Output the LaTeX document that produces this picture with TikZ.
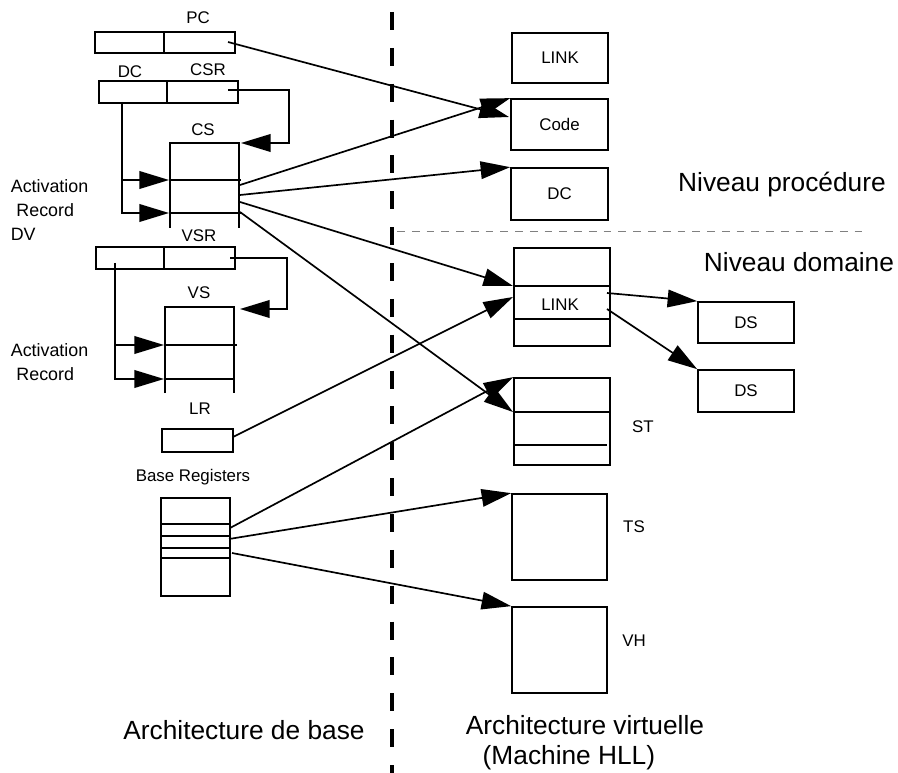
\documentclass[tikz,border=0pt]{standalone}
\usepackage{fontspec}
\setmainfont{Liberation Sans}
\usepackage{tikz}
\usetikzlibrary{arrows.meta}
\usetikzlibrary{positioning}

\begin{document}
\begin{tikzpicture}[x=0.025cm,y=-0.025cm,->,>={Triangle[length=21pt,width=12.5pt]},
  line width=1.2pt,
  main node/.style={rectangle,draw,inner sep=0pt,font=\fontsize{12}{14}\selectfont},
  dims/.style 2 args={minimum width=#1*0.025cm,minimum height=#2*0.025cm},
  small label/.style={inner sep=0pt,font=\fontsize{12}{14}\selectfont},
  side label/.style={inner sep=0pt,align=left,anchor=west,font=\fontsize{12.7}{17}\selectfont},
  big label/.style={inner sep=0pt,font=\fontsize{18.7}{21.3}\selectfont}]

  \useasboundingbox (0,0) rectangle (898,773);

  % base architecture, registers
  \node[main node,dims={69}{21}] (pc1) at (129.5,42.5) {};
  \node[main node,dims={71}{21}] (pc2) at (199.5,42.5) {};
  \node[main node,dims={68}{22}] (dc1) at (133,92) {};
  \node[main node,dims={71}{22}] (dc2) at (202.5,92) {};
  \node[main node,dims={68}{22}] (vs1) at (130,258) {};
  \node[main node,dims={71}{22}] (vs2) at (199.5,258) {};
  \node[main node,dims={71}{23}] (lr) at (197.5,440.5) {};
  \node[main node,dims={69}{98}] (base) at (195.5,547) {};

  \node[small label] (pc label) at (198,18) {PC};
  \node[small label] (dc label) at (130,72) {DC};
  \node[small label] (csr label) at (208,70) {CSR};
  \node[small label] (cs label) at (203,130) {CS};
  \node[small label] (vsr label) at (199,236) {VSR};
  \node[small label] (vs label) at (199,293) {VS};
  \node[small label] (lr label) at (200,409) {LR};
  \node[small label] (base label) at (193,477) {Base Registers};
  \node[side label] (act1) at (10,210) {Activation\\\hspace*{4pt}Record\\DV};
  \node[side label] (act2) at (10,362) {Activation\\\hspace*{4pt}Record};

  % stacks
  \draw[-] (170,228) -- (170,143) -- (239,143) -- (239,228)
    (170,180) -- (241,180) (170,213) -- (241,213);
  \draw[-] (165,393) -- (165,307) -- (234,307) -- (234,393)
    (165,345) -- (237,345) (165,379) -- (234,379);
  \foreach \y in {524,536,548,558}
    \draw[-] (161,\y) -- (230,\y);

  % virtual architecture
  \node[main node,dims={96}{50}] (link) at (560,58) {LINK};
  \node[main node,dims={97}{51}] (code) at (559.5,124.5) {Code};
  \node[main node,dims={97}{52}] (dc) at (559.5,194) {DC};
  \node[main node,dims={96}{98}] (dom) at (562,297) {};
  \node[main node,dims={96}{41}] (ds1) at (746,322.5) {DS};
  \node[main node,dims={96}{42}] (ds2) at (746,391) {DS};
  \node[main node,dims={96}{87}] (st) at (562,421.5) {};
  \node[main node,dims={95}{86}] (ts) at (559.5,537) {};
  \node[main node,dims={95}{86}] (vh) at (559.5,650) {};
  \draw[-] (514,286) -- (610,286) (514,319) -- (610,319);
  \draw[-] (514,412) -- (610,412) (514,445) -- (607,445);

  \node[small label] (dom label) at (560,305) {LINK};
  \node[small label] (st label) at (643,427) {ST};
  \node[small label] (ts label) at (634,527) {TS};
  \node[small label] (vh label) at (634,641) {VH};

  \node[big label] (proc) at (782,185) {Niveau procédure};
  \node[big label] (domaine) at (799,262) {Niveau domaine};
  \node[big label] (arch base) at (244,730) {Architecture de base};
  \node[big label,align=left,anchor=west] (arch virt) at (465,743)
    {Architecture virtuelle\\\hspace*{12pt}(Machine HLL)};

  % separators
  \draw[-,line width=3.5pt,dash pattern=on 12.8pt off 12.7pt] (392,12) -- (392,773);
  \draw[-,line width=0.7pt,gray,dash pattern=on 5.5pt off 5pt] (397,231) -- (867,231);

  % connector ends
  \coordinate (pc out) at (228,42);
  \coordinate (csr out) at (228,90);
  \coordinate (dc out) at (122,102);
  \coordinate (cs in) at (241,143);
  \coordinate (cs in a) at (169,180);
  \coordinate (cs in b) at (169,213);
  \coordinate (cs a) at (240,185);
  \coordinate (cs b) at (240,195);
  \coordinate (cs c) at (240,202);
  \coordinate (cs d) at (240,212);
  \coordinate (vsr out) at (230,258);
  \coordinate (dv out) at (115,263);
  \coordinate (vs in) at (240,309);
  \coordinate (vs in a) at (164,345);
  \coordinate (vs in b) at (164,379);
  \coordinate (lr out) at (233,437);
  \coordinate (base a) at (230,528);
  \coordinate (base b) at (229,539);
  \coordinate (base c) at (232,553);
  \coordinate (code in) at (509,117);
  \coordinate (dom in a) at (513,286);
  \coordinate (dom in b) at (513,297);
  \coordinate (st in) at (513,412);
  \coordinate (link out a) at (607,293);
  \coordinate (link out b) at (607,309);

  \draw (csr out) -- (289,90) |- (cs in);
  \draw (dc out) |- (cs in b);
  \draw (dc out |- cs in a) -- (cs in a);
  \draw (vsr out) -- (287,258) |- (vs in);
  \draw (dv out) |- (vs in b);
  \draw (dv out |- vs in a) -- (vs in a);

  \path
    (pc out) edge (code in)
    (cs a) edge (code.north west)
    (cs b) edge (dc.north west)
    (cs c) edge (dom in a)
    (cs d) edge (st in)
    (lr out) edge (dom in b)
    (base a) edge (st.north west)
    (base b) edge (ts.north west)
    (base c) edge (vh.north west)
    (link out a) edge (ds1.north west)
    (link out b) edge (ds2.north west);
\end{tikzpicture}
\end{document}
